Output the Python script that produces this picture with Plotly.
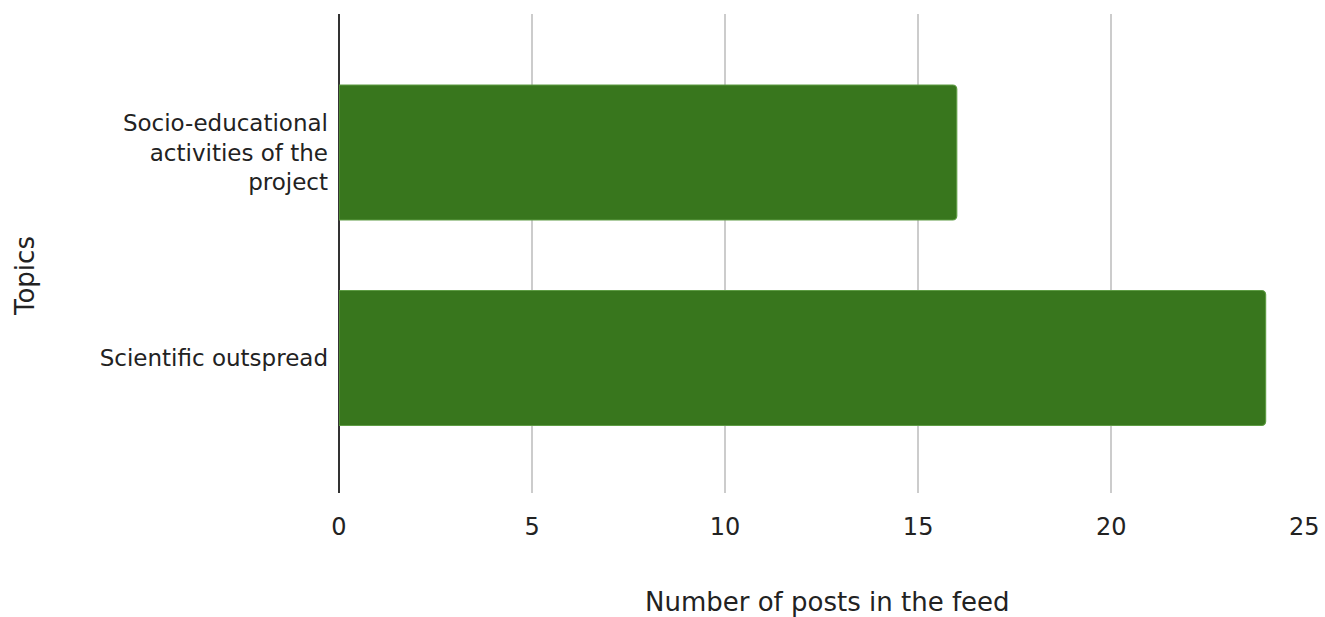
import plotly.graph_objects as go

categories = ["Scientific outspread", "Socio-educational<br>activities of the<br>project"]
values = [24, 16]
x_ticks = [0, 5, 10, 15, 20, 25]
x_title = "Number of posts in the feed"
y_title = "Topics"

FONT = "DejaVu Sans"
L, R, T, B = 339, 20, 14, 124
W, H = 1325, 617
plot_w = W - L - R
plot_h = H - T - B

fig = go.Figure(
    go.Bar(
        y=categories,
        x=values,
        orientation="h",
        marker=dict(color="#38761d", line=dict(color="#5e9c44", width=1.2), cornerradius=4),
        width=0.657,
        hoverinfo="x+y",
    )
)

fig.update_layout(
    width=W,
    height=H,
    margin=dict(l=L, r=R, t=T, b=B, pad=0, autoexpand=False),
    paper_bgcolor="white",
    plot_bgcolor="white",
    showlegend=False,
    font=dict(family=FONT, color="#222222"),
    xaxis=dict(
        range=[0, 25.02],
        tickvals=x_ticks,
        ticktext=[str(v) for v in x_ticks],
        showgrid=True,
        gridcolor="#cccccc",
        gridwidth=1.5,
        zeroline=True,
        zerolinecolor="#333333",
        zerolinewidth=2,
        showline=False,
        ticks="",
        tickfont=dict(family=FONT, size=24, color="#222222"),
        ticklabelstandoff=17,
        ticklabeloverflow="allow",
        automargin=False,
        fixedrange=True,
    ),
    yaxis=dict(
        categoryorder="array",
        categoryarray=categories,
        range=[-0.657, 1.674],
        showgrid=False,
        zeroline=False,
        showline=False,
        ticks="",
        tickfont=dict(family=FONT, size=23, color="#222222"),
        ticklabelstandoff=10,
        automargin=False,
        fixedrange=True,
    ),
    annotations=[
        dict(
            text=x_title,
            xref="paper", yref="paper",
            x=(827 - L) / plot_w, y=-(602 - (T + plot_h)) / plot_h,
            xanchor="center", yanchor="middle",
            showarrow=False,
            font=dict(family=FONT, size=26, color="#222222"),
        ),
        dict(
            text=y_title,
            xref="paper", yref="paper",
            x=(25 - L) / plot_w, y=1 - (276 - T) / plot_h,
            xanchor="center", yanchor="middle",
            textangle=-90,
            showarrow=False,
            font=dict(family=FONT, size=26, color="#222222"),
        ),
    ],
)

fig.write_html("out.html")
